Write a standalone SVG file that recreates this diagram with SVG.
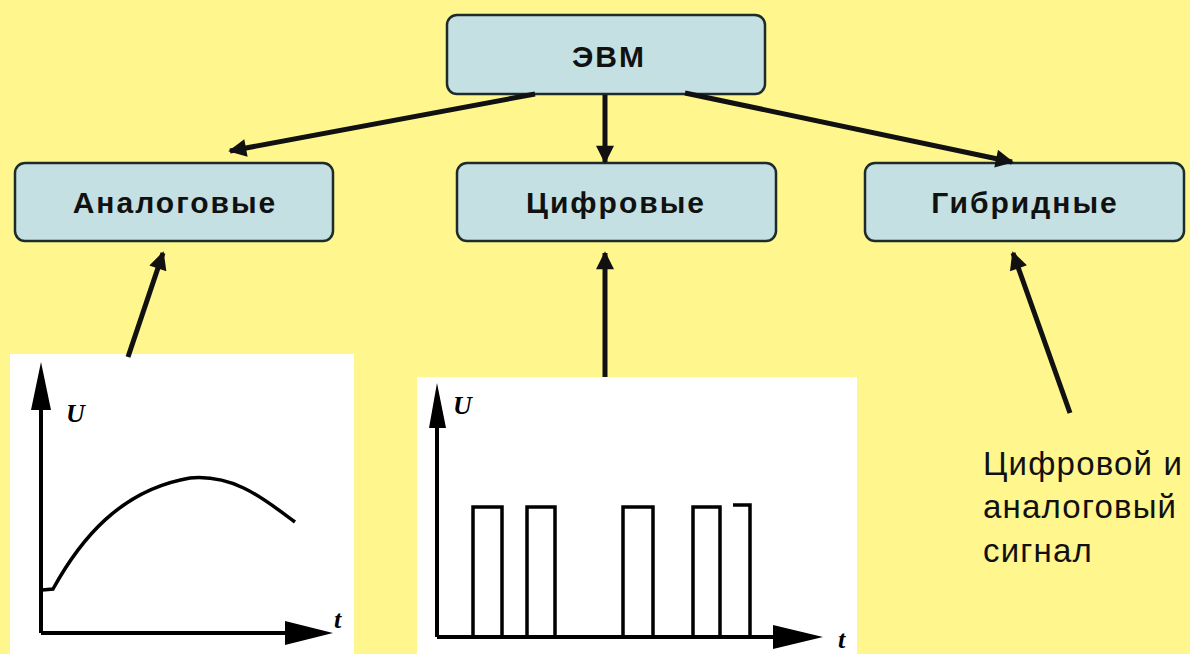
<svg xmlns="http://www.w3.org/2000/svg" width="1190" height="654" viewBox="0 0 1190 654">
<style>
.box{fill:#C4E0E2;stroke:#1E2B2B;stroke-width:2.5}
.lbl{font-family:"Liberation Sans",Arial,sans-serif;font-weight:bold;font-size:30px;fill:#111;text-anchor:middle;letter-spacing:2px}
.conn{stroke:#111;stroke-width:5;fill:none;marker-end:url(#ah)}
.ax{stroke:#000;stroke-width:4;fill:none}
.sig{stroke:#000;stroke-width:3.5;fill:none}
.it{font-family:"Liberation Serif","Times New Roman",serif;font-style:italic;font-weight:bold;font-size:26px;fill:#000}
.note{font-family:"Liberation Sans",Arial,sans-serif;font-size:33px;fill:#111;letter-spacing:1.2px}
</style>
<defs>
<marker id="ah" viewBox="0 0 10 10" refX="9" refY="5" markerWidth="4" markerHeight="3.6" orient="auto" markerUnits="strokeWidth">
<path d="M0,0 L10,5 L0,10 z" fill="#111"/>
</marker>
</defs>
<rect width="1190" height="654" fill="#FFF68E"/>
<g id="node-evm">
<rect class="box" x="447" y="15" width="318" height="79" rx="10"/>
<text class="lbl" x="609" y="67" font-size="34" letter-spacing="1">ЭВМ</text>
</g>
<g id="node-analog">
<rect class="box" x="15" y="163" width="318" height="78" rx="10"/>
<text class="lbl" x="175" y="213">Аналоговые</text>
</g>
<g id="node-digital">
<rect class="box" x="457" y="163" width="319" height="78" rx="10"/>
<text class="lbl" x="616" y="213">Цифровые</text>
</g>
<g id="node-hybrid">
<rect class="box" x="865" y="163" width="319" height="78" rx="10"/>
<text class="lbl" x="1025" y="213">Гибридные</text>
</g>
<g id="graph-analog">
<rect x="10" y="354" width="344" height="300" fill="#FFFFFF"/>
<line class="ax" x1="41" y1="633" x2="41" y2="400"/>
<path d="M41,362 L31,410 L51,410 z" fill="#000"/>
<line class="ax" x1="41" y1="633" x2="290" y2="633"/>
<path d="M333,633 L285,621 L285,645 z" fill="#000"/>
<path class="sig" d="M42,590 L53,589 C80,540 120,490 190,478 C235,474 265,500 295,522"/>
<text class="it" x="66" y="422">U</text>
<text class="it" x="334" y="628">t</text>
</g>
<g id="graph-digital">
<rect x="417" y="377" width="440" height="277" fill="#FFFFFF"/>
<line class="ax" x1="437" y1="637" x2="437" y2="420"/>
<path d="M437,383 L429,428 L446,428 z" fill="#000"/>
<line class="ax" x1="437" y1="637" x2="780" y2="637"/>
<path d="M823,637 L773,625 L773,649 z" fill="#000"/>
<path class="sig" stroke-width="4.5" d="M473,637 L473,507 L502,507 L502,637 M527,637 L527,507 L555,507 L555,637 M623,637 L623,507 L653,507 L653,637 M693,637 L693,507 L720,507 L720,637 M733,505 L750,505 L750,637"/>
<text class="it" x="453" y="414">U</text>
<text class="it" x="838" y="648">t</text>
</g>
<g id="note-hybrid">
<text class="note" x="983" y="475">Цифровой и</text>
<text class="note" x="983" y="518">аналоговый</text>
<text class="note" x="983" y="562">сигнал</text>
</g>
<g id="connectors">
<line class="conn" x1="535" y1="94" x2="230" y2="151"/>
<line class="conn" x1="605" y1="95" x2="605" y2="162"/>
<line class="conn" x1="685" y1="93" x2="1012" y2="162"/>
<line class="conn" x1="128" y1="357" x2="163" y2="253"/>
<line class="conn" x1="605" y1="377" x2="605" y2="253"/>
<line class="conn" x1="1070" y1="413" x2="1013" y2="253"/>
</g>
</svg>
